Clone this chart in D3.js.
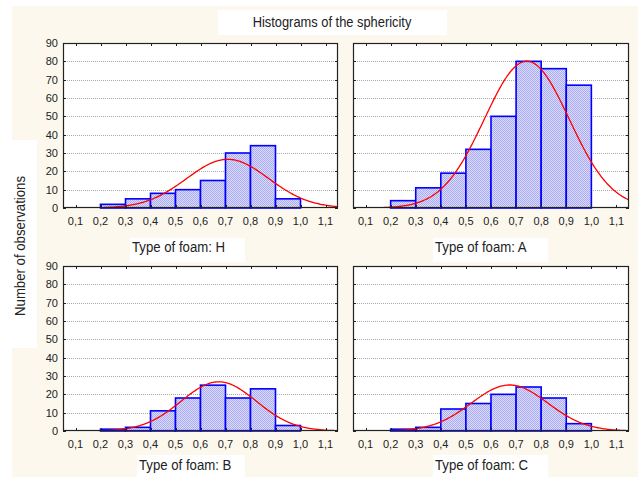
<!DOCTYPE html>
<html>
<head>
<meta charset="utf-8">
<script src="https://cdn.jsdelivr.net/npm/d3@7"></script>
<style>
  body { margin: 0; background: #fff; }
  text { font-family: "Liberation Sans Narrow", "Arial Narrow", "Liberation Sans", sans-serif; fill: #222; }
  .tick-label { font-family: "Liberation Sans", Arial, sans-serif; font-size: 11px; }
</style>
</head>
<body>
<div id="chart"></div>
<script>

// Data
var binStarts = [0.1, 0.2, 0.3, 0.4, 0.5, 0.6, 0.7, 0.8, 0.9, 1.0];
var foamH = [0, 2, 5, 8, 10, 15, 30, 34, 5, 0];
var foamA = [0, 4, 11, 19, 32, 50, 80, 76, 67, 0];
var foamB = [0, 1, 2, 11, 18, 25, 18, 23, 3, 0];
var foamC = [0, 1, 2, 12, 15, 20, 24, 18, 4, 0];
var panelTitles = ["Type of foam: H", "Type of foam: A", "Type of foam: B", "Type of foam: C"];
var xTicks = [0.1, 0.2, 0.3, 0.4, 0.5, 0.6, 0.7, 0.8, 0.9, 1.0, 1.1];
var yTicks = [0, 10, 20, 30, 40, 50, 60, 70, 80, 90];

var attrs = {
  svgWidth: 638,
  svgHeight: 477,
  binWidth: 0.1,
  cream: '#fcf8ed',
  barStroke: '#0000ff',
  curveColor: '#ff0000',
  narrow: 0.88   // horizontal squeeze to mimic a condensed face
};

// panel boxes (plot areas) and their caption boxes
var panels = [
  { counts: foamH, title: panelTitles[0], x: 63, y: 43, w: 275, h: 165, yLabels: true, capX: 130, capW: 115, capTop: 238, capH: 24, capBase: 252 },
  { counts: foamA, title: panelTitles[1], x: 353, y: 43, w: 276, h: 165, yLabels: false, capX: 433, capW: 115, capTop: 238, capH: 24, capBase: 252 },
  { counts: foamB, title: panelTitles[2], x: 63, y: 266, w: 275, h: 165, yLabels: true, capX: 137, capW: 108, capTop: 455, capH: 22, capBase: 470 },
  { counts: foamC, title: panelTitles[3], x: 353, y: 266, w: 276, h: 165, yLabels: false, capX: 433, capW: 115, capTop: 455, capH: 22, capBase: 470 }
];

//Add svg
var svg = d3.select('#chart').append('svg')
  .attr('width', attrs.svgWidth)
  .attr('height', attrs.svgHeight);

//dotted bar fill
var defs = svg.append('defs');
var pat = defs.append('pattern')
  .attr('id', 'dots')
  .attr('patternUnits', 'userSpaceOnUse')
  .attr('width', 2).attr('height', 2);
pat.append('rect').attr('width', 2).attr('height', 2).attr('fill', '#dcdcfb');
pat.append('rect').attr('width', 1).attr('height', 1).attr('fill', '#aaaaf2');
pat.append('rect').attr('x', 1).attr('y', 1).attr('width', 1).attr('height', 1).attr('fill', '#aaaaf2');

//Background
svg.append('rect')
  .attr('x', 12).attr('y', 6)
  .attr('width', 626).attr('height', 471)
  .attr('fill', attrs.cream);

//Title
svg.append('rect').attr('x', 218).attr('y', 10).attr('width', 229).attr('height', 25).attr('fill', '#fff');
svg.append('text')
  .attr('transform', 'translate(332,27) scale(' + 0.92 + ',1)')
  .attr('text-anchor', 'middle')
  .attr('font-size', 14)
  .text('Histograms of the sphericity');

//Y label
svg.append('rect').attr('x', 0).attr('y', 140).attr('width', 37).attr('height', 208).attr('fill', '#fff');
svg.append('text')
  .attr('transform', 'translate(25,246) rotate(-90) scale(' + attrs.narrow + ',1)')
  .attr('text-anchor', 'middle')
  .attr('font-size', 15)
  .text('Number of observations');

panels.forEach(function (p, idx) {

  //Scales
  var x = d3.scaleLinear().domain([0.05, 1.15]).range([p.x, p.x + p.w]);
  var y = d3.scaleLinear().domain([0, 90]).range([p.y + p.h, p.y]);

  var g = svg.append('g').attr('class', 'panel');
  var clipId = 'clip' + idx;
  defs.append('clipPath').attr('id', clipId)
    .append('rect').attr('x', p.x).attr('y', p.y).attr('width', p.w).attr('height', p.h);

  //plot area
  g.append('rect')
    .attr('x', p.x).attr('y', p.y).attr('width', p.w).attr('height', p.h)
    .attr('fill', '#fff');

  //grid
  g.selectAll('.grid').data(yTicks.slice(1, -1)).enter().append('line')
    .attr('x1', p.x).attr('x2', p.x + p.w)
    .attr('y1', function (d) { return Math.round(y(d)) + 0.5; })
    .attr('y2', function (d) { return Math.round(y(d)) + 0.5; })
    .attr('stroke', '#a8a8a8')
    .attr('stroke-dasharray', '1,1');

  //bars
  var bins = binStarts.map(function (b, i) { return { x0: b, x1: b + attrs.binWidth, n: p.counts[i] }; });
  g.selectAll('.bar').data(bins).enter().append('rect')
    .attr('x', function (d) { return x(d.x0); })
    .attr('y', function (d) { return y(d.n); })
    .attr('width', function (d) { return x(d.x1) - x(d.x0); })
    .attr('height', function (d) { return y(0) - y(d.n); })
    .attr('fill', 'url(#dots)')
    .attr('stroke', attrs.barStroke)
    .attr('stroke-width', 1.6);

  //normal fit from the binned data
  var centers = binStarts.map(function (b) { return b + attrs.binWidth / 2; });
  var total = d3.sum(p.counts);
  var mean = d3.sum(centers, function (c, i) { return c * p.counts[i]; }) / total;
  var variance = d3.sum(centers, function (c, i) { return p.counts[i] * (c - mean) * (c - mean); }) / total;
  var sd = Math.sqrt(variance);
  var fit = function (v) {
    return total * attrs.binWidth / (sd * Math.sqrt(2 * Math.PI)) * Math.exp(-0.5 * Math.pow((v - mean) / sd, 2));
  };
  var line = d3.line()
    .x(function (v) { return x(v); })
    .y(function (v) { return y(fit(v)); });
  g.append('path')
    .attr('clip-path', 'url(#' + clipId + ')')
    .attr('d', line(d3.range(0.05, 1.1501, 0.005)))
    .attr('fill', 'none')
    .attr('stroke', attrs.curveColor)
    .attr('stroke-width', 1.3);

  //frame
  g.append('rect')
    .attr('x', p.x + 0.5).attr('y', p.y + 0.5).attr('width', p.w - 1).attr('height', p.h - 1)
    .attr('fill', 'none')
    .attr('stroke', '#222')
    .attr('stroke-width', 1.2);

  //inner ticks
  g.selectAll('.xt').data(xTicks).enter().append('path')
    .attr('d', function (d) {
      var xx = Math.round(x(d)) + 0.5;
      return 'M' + xx + ',' + p.y + 'v3M' + xx + ',' + (p.y + p.h) + 'v-3';
    })
    .attr('stroke', '#222');
  g.selectAll('.yt').data(yTicks).enter().append('path')
    .attr('d', function (d) {
      var yy = Math.round(y(d)) + 0.5;
      return 'M' + p.x + ',' + yy + 'h3M' + (p.x + p.w) + ',' + yy + 'h-3';
    })
    .attr('stroke', '#222');

  //x tick labels
  g.selectAll('.xl').data(xTicks).enter().append('text')
    .attr('class', 'tick-label')
    .attr('x', function (d) { return x(d); })
    .attr('y', p.y + p.h + 17)
    .attr('text-anchor', 'middle')
    .text(function (d) { return d.toFixed(1).replace('.', ','); });

  //y tick labels
  if (p.yLabels) {
    g.selectAll('.yl').data(yTicks).enter().append('text')
      .attr('class', 'tick-label')
      .attr('x', p.x - 5)
      .attr('y', function (d) { return y(d) + 4; })
      .attr('text-anchor', 'end')
      .text(function (d) { return d; });
  }

  //panel caption
  g.append('rect')
    .attr('x', p.capX).attr('y', p.capTop)
    .attr('width', p.capW).attr('height', p.capH)
    .attr('fill', '#fff');
  g.append('text')
    .attr('transform', 'translate(' + (p.capX + 2) + ',' + p.capBase + ') scale(' + attrs.narrow + ',1)')
    .attr('font-size', 15)
    .text(p.title);
});

</script>
</body>
</html>
